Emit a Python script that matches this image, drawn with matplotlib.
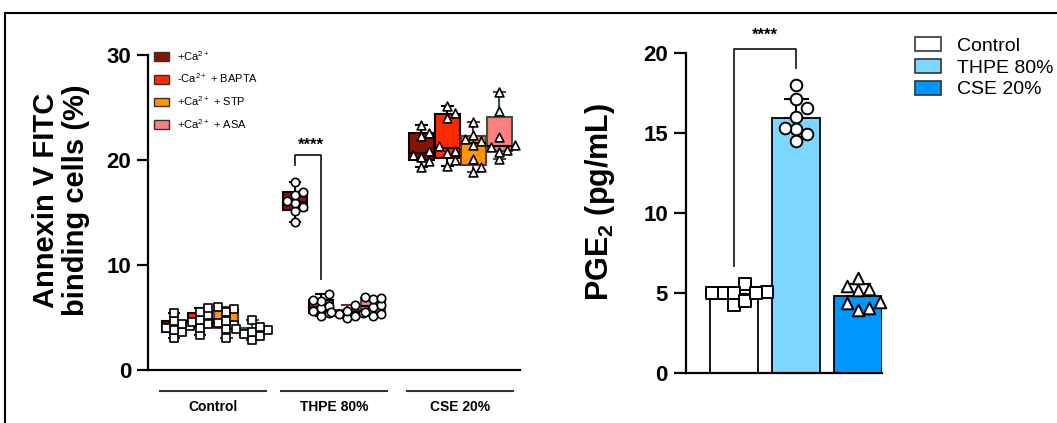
import numpy as np
import matplotlib
matplotlib.use("Agg")
import matplotlib.pyplot as plt
from matplotlib.patches import Patch, Rectangle

plt.rcParams['font.family'] = ['Liberation Sans', 'DejaVu Sans']
plt.rcParams['mathtext.fontset'] = 'custom'
plt.rcParams['mathtext.rm'] = 'Liberation Sans'
plt.rcParams['mathtext.bf'] = 'Liberation Sans:bold'

# ---- Annexin V data (% binding cells), 8 replicates per condition ----
groups = ['Control', 'THPE 80%', 'CSE 20%']
conditions = ['+Ca$^{2+}$', '-Ca$^{2+}$ + BAPTA', '+Ca$^{2+}$ + STP', '+Ca$^{2+}$ + ASA']

annexin_control = [
    [3.05, 3.6, 3.8, 4.0, 4.2, 4.4, 4.7, 5.45],
    [3.3, 4.0, 4.4, 4.6, 4.8, 5.2, 5.5, 5.9],
    [3.05, 3.9, 4.3, 4.5, 4.7, 5.5, 5.8, 6.0],
    [2.85, 3.25, 3.45, 3.6, 3.8, 3.9, 4.05, 4.75],
]
annexin_thpe = [
    [14.1, 15.1, 15.5, 15.9, 16.1, 16.7, 17.0, 17.9],
    [5.1, 5.4, 5.65, 5.9, 6.1, 6.6, 6.7, 7.2],
    [4.95, 5.15, 5.35, 5.45, 5.55, 5.65, 5.72, 6.2],
    [5.1, 5.35, 5.55, 6.0, 6.2, 6.75, 6.9, 7.0],
]
annexin_cse = [
    [19.3, 19.9, 20.3, 20.5, 20.9, 22.3, 22.6, 23.3],
    [19.4, 20.0, 20.65, 20.9, 21.3, 24.0, 24.5, 25.1],
    [18.9, 19.3, 20.1, 21.4, 21.8, 22.0, 22.4, 23.65],
    [20.06, 20.8, 21.0, 21.2, 21.4, 22.2, 24.7, 26.5],
]

# ---- PGE2 data (pg/mL) ----
pge_labels = ['Control', 'THPE 80%', 'CSE 20%']
pge_control = [5.6, 5.1, 5.0, 4.3, 5.0, 5.05, 4.5, 5.0]
pge_thpe = [17.15, 18.0, 16.6, 16.0, 15.27, 15.3, 14.5, 14.96]
pge_cse = [5.95, 5.2, 3.96, 4.48, 5.25, 4.06, 5.46, 4.41]

box_colors = ['#8a1200', '#ff2a00', '#ff9500', '#ff8080']
box_edges = ['black', 'black', '#6b2c4a', '#2c5a42']
bar_colors = ['white', '#7dd6ff', '#0096ff']
group_markers = ['s', 'o', '^']


def swarm(vals, sx, sy, d):
    # simple beeswarm: offsets (data units) so markers of diameter d px don't overlap
    vals = np.asarray(vals, float)
    placed = []
    offs = np.zeros(len(vals))
    for i in np.argsort(vals):
        y = vals[i] * sy
        k = 0
        while True:
            x = (k + 1) // 2 * (1 if k % 2 else -1) * d
            if all((x - px) ** 2 + (y - py) ** 2 >= (0.9 * d) ** 2 for px, py in placed):
                break
            k += 1
        placed.append((x, y))
        offs[i] = x / sx
    return offs


W, H = 1057, 423
fig = plt.figure(figsize=(W / 100, H / 100), dpi=100)

# ================= left panel: Annexin V boxplots =================
ax1 = fig.add_axes([148 / W, 1 - 370 / H, 372 / W, 315 / H])
group_start = [1.0, 5.65, 10.5]
all_data = [annexin_control, annexin_thpe, annexin_cse]
sx1, sy1 = 26.0, 10.5
for g, gdata in enumerate(all_data):
    for i, vals in enumerate(gdata):
        pos = group_start[g] + i
        q1, med, q3 = np.percentile(vals, [25, 50, 75], method='weibull')
        stats = [dict(med=med, q1=q1, q3=q3, whislo=min(vals), whishi=max(vals), fliers=[])]
        ec = box_edges[i]
        ax1.bxp(stats, positions=[pos], widths=0.95, patch_artist=True, capwidths=0.42,
                boxprops=dict(facecolor=box_colors[i], edgecolor=ec, linewidth=1.5),
                whiskerprops=dict(color=ec, linewidth=1.5),
                capprops=dict(color=ec, linewidth=1.5),
                medianprops=dict(color='black', linewidth=1.5), zorder=2)
        offs = swarm(vals, sx1, sy1, 8)
        ax1.scatter(pos + offs, vals, marker=group_markers[g], s=36 if g != 2 else 40,
                    facecolor='white', edgecolor='black', linewidth=1.2, zorder=3)

ax1.set_xlim(0, 14.3)
ax1.set_ylim(0, 30)
ax1.set_yticks([0, 10, 20, 30])
ax1.set_xticks([])
for s in ['top', 'right']:
    ax1.spines[s].set_visible(False)
for s in ['left', 'bottom']:
    ax1.spines[s].set_linewidth(1.6)
ax1.tick_params(axis='y', length=8, width=1.6, pad=4, labelsize=16)
for t in ax1.get_yticklabels():
    t.set_fontweight('bold')

# group underlines and labels
trans = ax1.get_xaxis_transform()
for g, name in enumerate(groups):
    x0 = group_start[g] - 0.55
    x1 = group_start[g] + 3.55
    ax1.plot([x0, x1], [-0.067, -0.067], color='#333333', lw=1.5, transform=trans, clip_on=False)
    ax1.text((x0 + x1) / 2, -0.117, name, transform=trans, ha='center', va='center',
             fontsize=10, fontweight='bold')

# significance bracket
bx0, bx1 = group_start[1], group_start[1] + 1
ax1.plot([bx0, bx0, bx1, bx1], [19.5, 20.5, 20.5, 8.7], color='#222222', lw=1.3, zorder=1)
ax1.text((bx0 + bx1) / 2 + 0.1, 21.4, '****', ha='center', va='center', fontsize=12, fontweight='bold')

ax1.legend(handles=[Patch(facecolor=c, edgecolor='#333333', linewidth=1) for c in box_colors],
           labels=conditions, loc='upper left', bbox_to_anchor=(0.015, 1.02),
           frameon=False, fontsize=8, handlelength=1.4, handleheight=0.85,
           handletextpad=0.7, labelspacing=0.8, borderpad=0, borderaxespad=0)

fig.text(61 / W, 1 - 200 / H, 'Annexin V FITC\nbinding cells (%)', rotation=90,
         ha='center', va='center', fontsize=21, fontweight='bold', linespacing=1.05)

# ================= right panel: PGE2 bars =================
ax2 = fig.add_axes([686 / W, 1 - 373.3 / H, 196 / W, 320 / H])
pge_data = [pge_control, pge_thpe, pge_cse]
sx2, sy2 = 62.0, 16.0
xs = np.arange(len(pge_data))
means = [np.mean(v) for v in pge_data]
sds = [np.std(v, ddof=1) for v in pge_data]
ax2.bar(xs, means, width=0.78, color=bar_colors, edgecolor='black', linewidth=1.3, zorder=1)
ax2.errorbar(xs, means, yerr=[np.zeros(3), sds], fmt='none', ecolor='black', elinewidth=1.5,
             capsize=9, capthick=1.5, zorder=2)
for i, vals in enumerate(pge_data):
    offs = swarm(vals, sx2, sy2, 11)
    ax2.scatter(xs[i] + offs, vals, marker=group_markers[i], s=70,
                facecolor='white', edgecolor='black', linewidth=1.4, zorder=3, clip_on=False)

ax2.set_xlim(-0.78, 2.39)
ax2.set_ylim(0, 20)
ax2.set_yticks([0, 5, 10, 15, 20])
ax2.set_xticks([])
for s in ['top', 'right']:
    ax2.spines[s].set_visible(False)
for s in ['left', 'bottom']:
    ax2.spines[s].set_linewidth(1.6)
ax2.tick_params(axis='y', length=9, width=1.6, pad=4, labelsize=16)
for t in ax2.get_yticklabels():
    t.set_fontweight('bold')

ax2.plot([0, 0, 1, 1], [6.7, 20.27, 20.27, 19.1], color='#222222', lw=1.3, clip_on=False)
ax2.text(0.49, 21.1, '****', ha='center', va='center', fontsize=12, fontweight='bold', clip_on=False)

fig.text(600 / W, 1 - 202 / H, 'PGE$_\\mathbf{2}$ (pg/mL)', rotation=90,
         ha='center', va='center', fontsize=22, fontweight='bold')

fig.legend(handles=[Patch(facecolor=c, edgecolor='#333333', linewidth=1.2) for c in bar_colors],
           labels=pge_labels, loc='upper left', bbox_to_anchor=(915 / W, 1 - 37 / H),
           frameon=False, fontsize=14, handlelength=1.35, handleheight=0.75,
           handletextpad=0.8, labelspacing=0.2, borderpad=0, borderaxespad=0)

# outer frame
fig.patches.append(Rectangle((5 / W, -0.1), 2, 1.1 - 13 / H, transform=fig.transFigure,
                             fill=False, edgecolor='black', linewidth=1.5))

fig.savefig('out.png', dpi=100)
